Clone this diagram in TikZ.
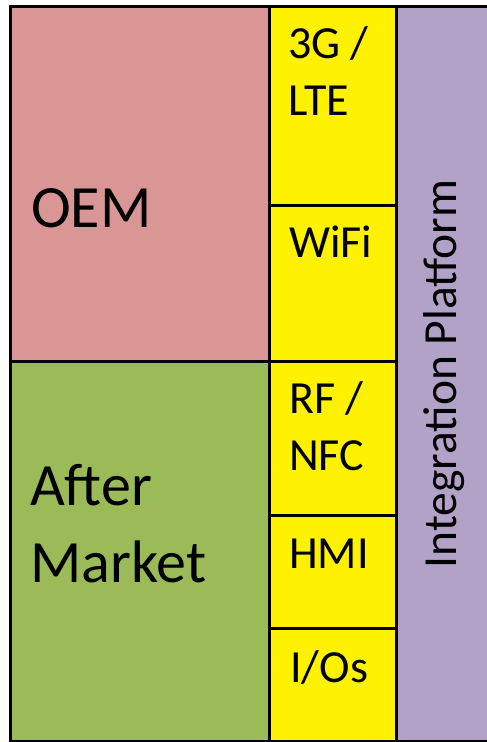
\documentclass[tikz,border=0pt]{standalone}
\usepackage{fontspec}
\setmainfont{Carlito}
\usetikzlibrary{positioning}

\definecolor{oemred}{HTML}{D99694}
\definecolor{aftergreen}{HTML}{9BBB59}
\definecolor{platpurple}{HTML}{B3A2C7}

\begin{document}
\begin{tikzpicture}[x=1pt,y=-1pt,
  box/.style={draw=black,line width=2.5pt,inner sep=0pt,anchor=north west},
  big/.style={font=\fontsize{60}{77}\selectfont,align=left,inner sep=0pt,anchor=base west},
  small/.style={font=\fontsize{46}{57}\selectfont,align=left,inner sep=0pt,anchor=base west}]
\useasboundingbox (0,0) rectangle (487,742);
% left half
\node[box,fill=oemred,minimum width=259pt,minimum height=355pt] (oem) at (9,5) {};
\node[box,fill=aftergreen,minimum width=259pt,minimum height=380pt] (after) at (9,360) {};
% middle column
\node[box,fill=yellow,minimum width=127pt,minimum height=199pt] (lte) at (268,5) {};
\node[box,fill=yellow,minimum width=127pt,minimum height=156pt] (wifi) at (268,204) {};
\node[box,fill=yellow,minimum width=127pt,minimum height=154pt] (rf) at (268,360) {};
\node[box,fill=yellow,minimum width=127pt,minimum height=113pt] (hmi) at (268,514) {};
\node[box,fill=yellow,minimum width=127pt,minimum height=113pt] (ios) at (268,627) {};
% right column
\node[box,fill=platpurple,minimum width=97pt,minimum height=735pt] (platform) at (395,5) {};
% texts
\node[big] (oemtext) at (31,227) {OEM};
\node[big] (aftertext) at (30,582) {After\\Market};
\node[small] (ltetext) at (288,115) {3G /\\LTE};
\node[small] (wifitext) at (289,257) {WiFi};
\node[small] (rftext) at (289,470) {RF /\\NFC};
\node[small] (hmitext) at (289,568) {HMI};
\node[small] (iostext) at (290,682) {I/Os};
\node[small,font=\fontsize{47.5}{57}\selectfont,anchor=base,rotate=90] (platformtext) at (456,374) {Integration Platform};
\end{tikzpicture}
\end{document}
